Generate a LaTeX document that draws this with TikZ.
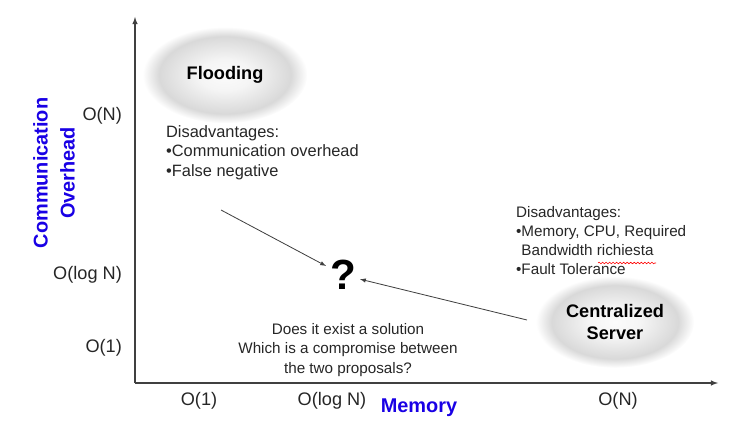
\documentclass[tikz,border=0pt]{standalone}
\usepackage{fontspec}
\setmainfont{Liberation Sans}
\usetikzlibrary{shapes.geometric,decorations.pathmorphing}
\pgfdeclareradialshading{halo}{\pgfpoint{0bp}{0bp}}{color(0bp)=(gray!3); color(8bp)=(gray!8); color(20bp)=(gray!30); color(25bp)=(white); color(50bp)=(white)}

\begin{document}
\begin{tikzpicture}[x=0.03cm,y=-0.03cm,
    bubble/.style={ellipse,shading=halo,align=center,font=\fontsize{15.5}{18}\bfseries},
    plain/.style={font=\fontsize{14}{17}\selectfont,text=black!85},
    ticklbl/.style={font=\fontsize{15.5}{17}\selectfont,text=black!85},
    axislbl/.style={font=\fontsize{17}{23}\bfseries,text=blue!90!red},
    axis/.style={line width=1.1pt,black!75,-latex},
    pointer/.style={line width=0.7pt,black!75,-latex}]
        \useasboundingbox (0,0) rectangle (741,431);
        \coordinate (O) at (135,383);
        \coordinate (Xend) at (718,383);
        \coordinate (Yend) at (135,17);
        \draw [axis] (O) -- (Xend);
        \draw [axis] (O) -- (Yend);
        % tick labels
        \node (yN) [ticklbl,anchor=east] at (126,116) {O(N)};
        \node (ylog) [ticklbl,anchor=east] at (126,275) {O(log N)};
        \node (y1) [ticklbl,anchor=east] at (126,348) {O(1)};
        \node (x1) [ticklbl] at (199,401) {O(1)};
        \node (xlog) [ticklbl] at (332,401) {O(log N)};
        \node (xN) [ticklbl] at (618,401) {O(N)};
        \node (mem) [axislbl] at (419,408) {Memory};
        \node (comm) [axislbl,rotate=90,align=center] at (54,173) {Communication\\Overhead};
        % the two proposals
        \node (flood) [bubble,minimum width=4.95cm,minimum height=2.9cm] at (225,75) {Flooding};
        \node (server) [bubble,minimum width=4.75cm,minimum height=2.75cm] at (615,322) {Centralized\\Server};
        \node (floodtxt) [plain,anchor=north west,align=left] at (162,121)
            {Disadvantages:\\\textbullet Communication overhead\\\textbullet False negative};
        \node (servertxt) [plain,font=\fontsize{13}{16.2}\selectfont,anchor=north west,align=left] at (512,202)
            {Disadvantages:\\\textbullet Memory, CPU, Required\\\phantom{\textbullet}Bandwidth richiesta\\\textbullet Fault Tolerance};
        \draw [red,line width=0.5pt,decorate,decoration={snake,amplitude=0.7pt,segment length=3pt}] (598,263) -- (656,263);
        % the open question
        \node (q) [font=\fontsize{36}{36}\bfseries] at (343,275) {?};
        \node (ask) [plain,font=\fontsize{13}{17}\selectfont,align=center] at (348,350)
            {Does it exist a solution\\Which is a compromise between\\the two proposals?};
        \coordinate (f0) at (221,210);
        \coordinate (s0) at (527,320);
        \draw [pointer] (f0) -- (q);
        \draw [pointer] (s0) -- (q);
    \end{tikzpicture}
\end{document}
